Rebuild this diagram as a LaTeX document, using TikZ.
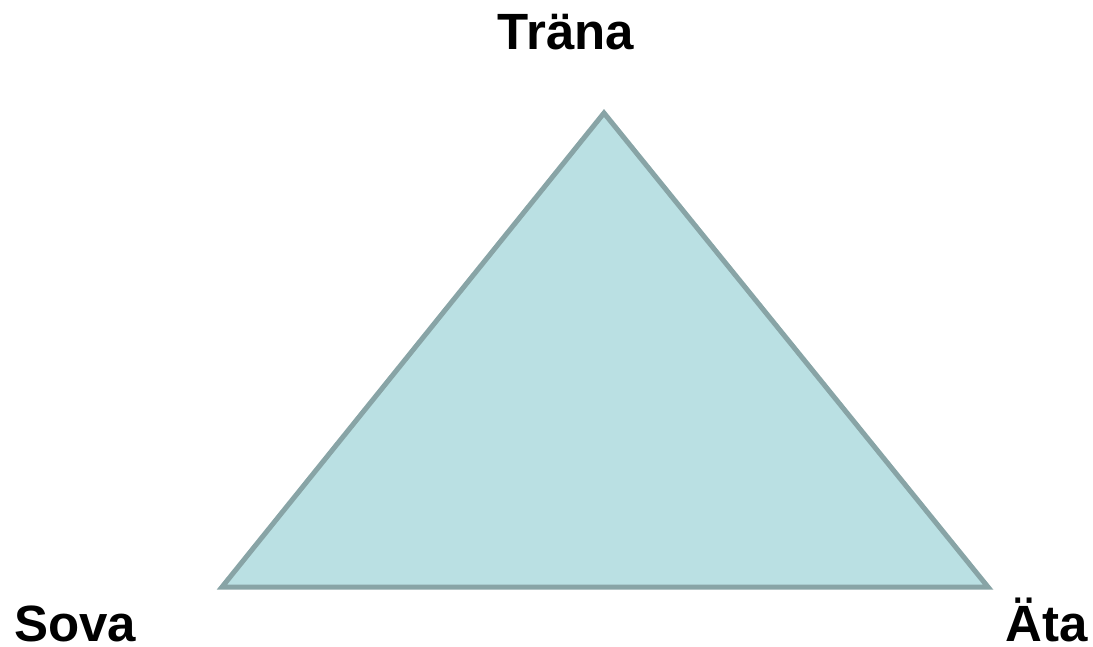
\documentclass[tikz,border=0pt]{standalone}
\usepackage{fontspec}
\setmainfont{Liberation Sans}
\definecolor{trifill}{HTML}{BAE0E3}
\definecolor{triedge}{HTML}{88A4A6}
\begin{document}
\begin{tikzpicture}[x=1pt,y=-1pt,
  lbl/.style={font=\fontsize{51}{61}\selectfont\bfseries, inner sep=0pt, anchor=base},
  tri/.style={fill=trifill, draw=triedge, line width=5pt, line join=miter}]
\useasboundingbox (0,0) rectangle (1093,647);
\coordinate (top) at (604,113);
\coordinate (bl) at (222,587);
\coordinate (br) at (988,587);
\draw[tri] (top) -- (bl) -- (br) -- cycle;
\node[lbl] (trana) at (566,50) {Träna};
\node[lbl] (sova) at (75,641) {Sova};
\node[lbl] (ata) at (1047,641) {Äta};
\end{tikzpicture}
\end{document}
